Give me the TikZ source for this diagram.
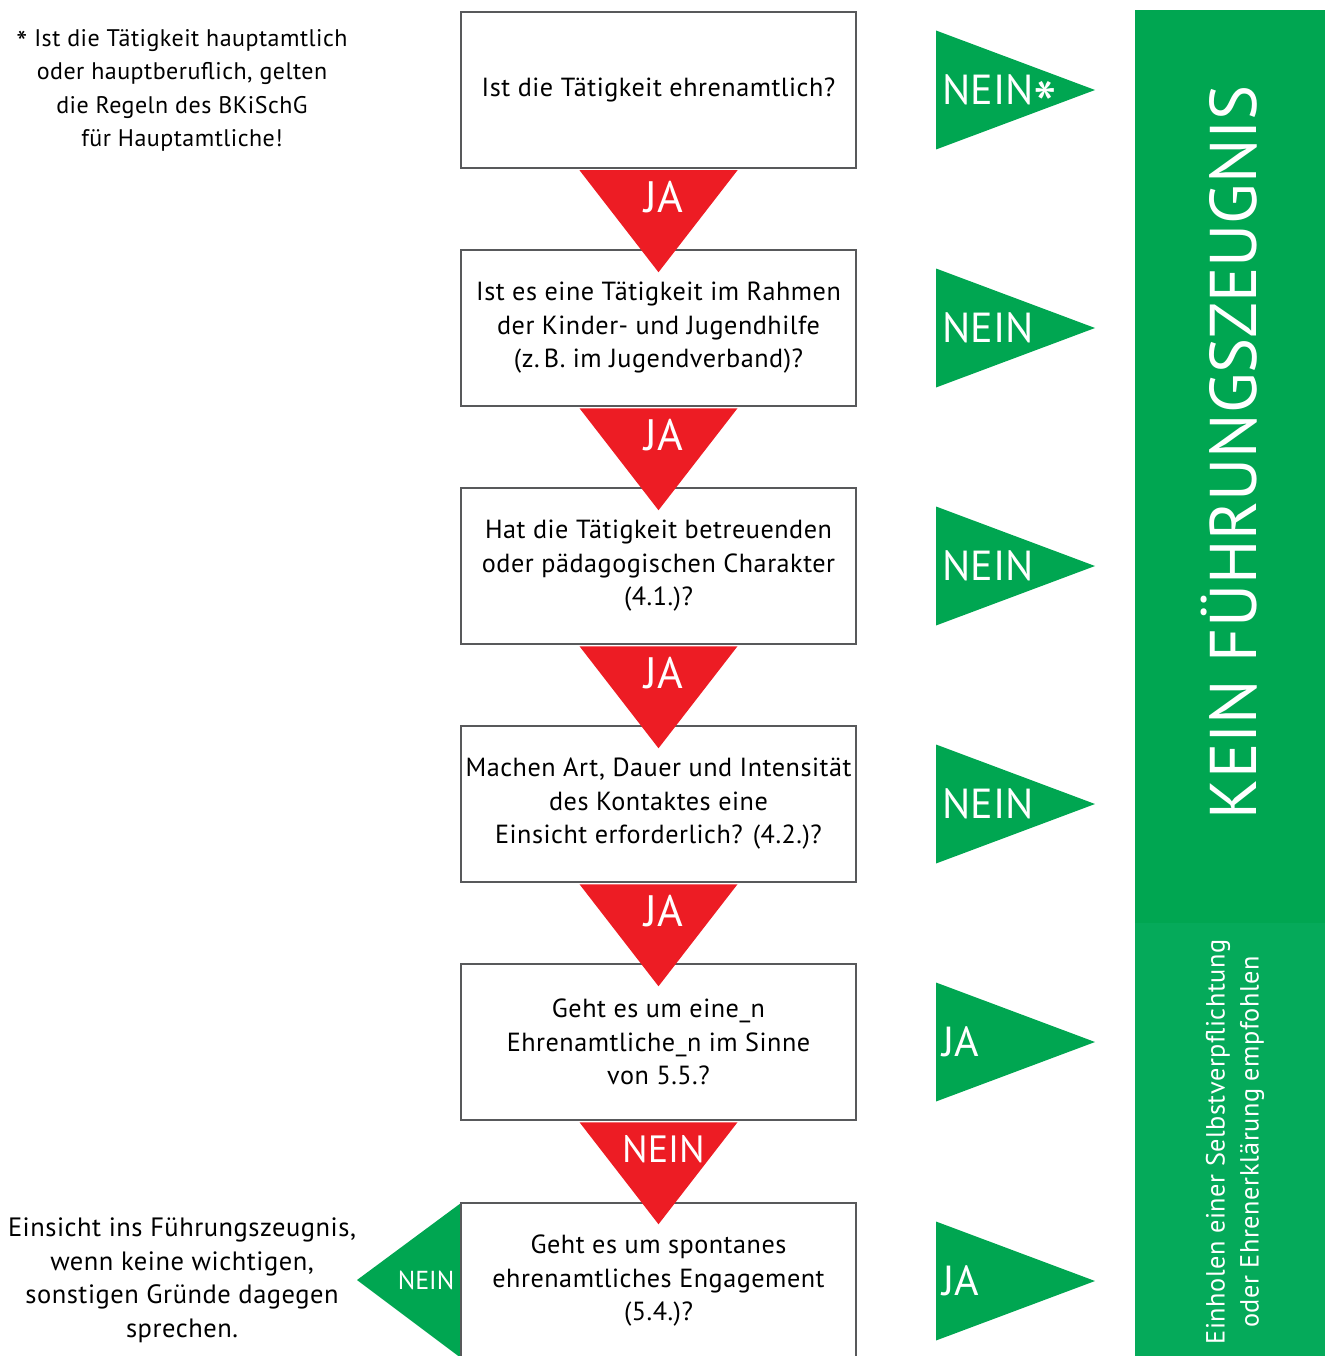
\documentclass[tikz,border=0pt]{standalone}
\usepackage{fontspec}
\setmainfont{PT Sans}[LetterSpace=2]
\newfontfamily\plainfont{PT Sans}
\usetikzlibrary{calc}
\definecolor{fgreen}{RGB}{0,166,81}
\definecolor{fgreenb}{RGB}{5,170,90}
\definecolor{fred}{RGB}{237,28,36}
\definecolor{fgray}{RGB}{88,89,91}
\newcommand{\bigast}{\smash{\raisebox{-0.6em}{\scalebox{1.6}{*}}}}
\newcommand{\noteast}{\smash{\raisebox{-0.3em}{\scalebox{1.3}{*}}}}
\begin{document}
\begin{tikzpicture}[x=1pt,y=-1pt,
  qbox/.style={draw=fgray,line width=2.5pt,fill=white,minimum width=395pt,minimum height=156pt,align=center,inner sep=0pt,font=\fontsize{26.2}{33.5}\selectfont},
  jalbl/.style={text=white,inner sep=0pt,font=\plainfont\fontsize{44}{44}\selectfont},
  neinlbl/.style={text=white,inner sep=0pt,anchor=west,font=\plainfont\fontsize{42}{42}\selectfont},
  note/.style={align=center,inner sep=0pt,font=\fontsize{24}{33.5}\selectfont}
]
\useasboundingbox (0,0) rectangle (1325,1356);
\clip (0,0) rectangle (1325,1356);
% green bar
\fill[fgreen] (1135,10) rectangle (1325,923);
\fill[fgreenb] (1135,923) rectangle (1325,1356);
\node[rotate=90,text=white,inner sep=0pt,font=\plainfont\fontsize{66}{66}\selectfont] (kein) at (1229,452) {KEIN FÜHRUNGSZEUGNIS};
\node[rotate=90,text=white,inner sep=0pt,align=center,font=\fontsize{26.3}{34}\selectfont] (einh) at (1235,1142) {Einholen einer Selbstverpflichtung\\oder Ehrenerklärung empfohlen};
% left triangle
\coordinate (lt) at (357,1280);
\fill[fgreen] (lt) -- (461,1203) -- (461,1358) -- cycle;
\node[text=white,inner sep=0pt,font=\plainfont\fontsize{26}{26}\selectfont] (ltl) at (426,1280) {NEIN};
% boxes
\node[qbox] (q1) at (658.5,90) {Ist die Tätigkeit ehrenamtlich?};
\node[qbox] (q2) at (658.5,328) {Ist es eine Tätigkeit im Rahmen\\der Kinder- und Jugendhilfe\\(z.\,B. im Jugendverband)?};
\node[qbox] (q3) at (658.5,566) {Hat die Tätigkeit betreuenden\\oder pädagogischen Charakter\\(4.1.)?};
\node[qbox] (q4) at (658.5,804) {Machen Art, Dauer und Intensität\\des Kontaktes eine\\Einsicht erforderlich? (4.2.)?};
\node[qbox] (q5) at (658.5,1042) {Geht es um eine\_n\\Ehrenamtliche\_n im Sinne\\von 5.5.?};
\node[qbox] (q6) at (658.5,1281) {Geht es um spontanes\\ehrenamtliches Engagement\\(5.4.)?};
% red connectors
\foreach \a/\t/\fs in {q1/JA/44,q2/JA/44,q3/JA/44,q4/JA/44,q5/NEIN/38}{
  \fill[fred] ($(\a.south)+(-79,1)$) -- ($(\a.south)+(79,1)$) -- ($(\a.south)+(0,103)$) -- cycle;
  \node[jalbl,font=\plainfont\fontsize{\fs}{\fs}\selectfont] (r\a) at ($(\a.south)+(5,28)$) {\t};
}
% green right triangles
\foreach \a/\t in {q1/NEIN\bigast,q2/NEIN,q3/NEIN,q4/NEIN,q5/JA,q6/JA}{
  \fill[fgreen] ($(\a.center)+(277.5,-59.5)$) -- ($(\a.center)+(436.5,0)$) -- ($(\a.center)+(277.5,59.5)$) -- cycle;
  \node[neinlbl] (g\a) at ($(\a.center)+(284,0)$) {\t};
}
% notes
\node[note] (star) at (182,90.5) {\noteast{} Ist die Tätigkeit hauptamtlich\\oder hauptberuflich, gelten\\die Regeln des BKiSchG\\für Hauptamtliche!};
\node[note,font=\fontsize{26.5}{33.5}\selectfont] (eins) at (182,1280.5) {Einsicht ins Führungszeugnis,\\wenn keine wichtigen,\\sonstigen Gründe dagegen\\sprechen.};
\end{tikzpicture}
\end{document}
